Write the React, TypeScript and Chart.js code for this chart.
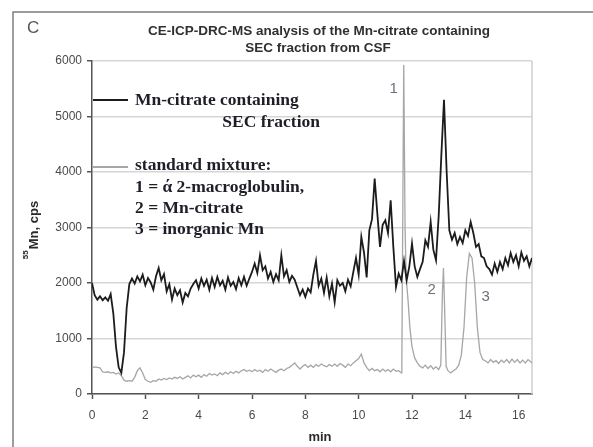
import React, { useEffect, useRef } from "react";
import { Chart, registerables } from "chart.js";

Chart.register(...registerables);

// ---- data ----
const blackTimes = [
  0, 0.1, 0.2, 0.3, 0.4, 0.5, 0.6, 0.7, 0.8, 0.9,
  1, 1.1, 1.2, 1.3, 1.4, 1.5, 1.6, 1.7, 1.8, 1.9,
  2, 2.1, 2.2, 2.3, 2.4, 2.5, 2.6, 2.7, 2.8, 2.9,
  3, 3.1, 3.2, 3.3, 3.4, 3.5, 3.6, 3.7, 3.8, 3.9,
  4, 4.1, 4.2, 4.3, 4.4, 4.5, 4.6, 4.7, 4.8, 4.9,
  5, 5.1, 5.2, 5.3, 5.4, 5.5, 5.6, 5.7, 5.8, 5.9,
  6, 6.1, 6.2, 6.3, 6.4, 6.5, 6.6, 6.7, 6.8, 6.9,
  7, 7.1, 7.2, 7.3, 7.4, 7.5, 7.6, 7.7, 7.8, 7.9,
  8, 8.1, 8.2, 8.3, 8.4, 8.5, 8.6, 8.7, 8.8, 8.9,
  9, 9.1, 9.2, 9.3, 9.4, 9.5, 9.6, 9.7, 9.8, 9.9,
  10, 10.1, 10.2, 10.3, 10.4, 10.5, 10.6, 10.7, 10.8, 10.9,
  11, 11.1, 11.2, 11.3, 11.4, 11.5, 11.6, 11.7, 11.8, 11.9,
  12, 12.1, 12.2, 12.3, 12.4, 12.5, 12.6, 12.7, 12.8, 12.9,
  13, 13.1, 13.2, 13.3, 13.4, 13.5, 13.6, 13.7, 13.8, 13.9,
  14, 14.1, 14.2, 14.3, 14.4, 14.5, 14.6, 14.7, 14.8, 14.9,
  15, 15.1, 15.2, 15.3, 15.4, 15.5, 15.6, 15.7, 15.8, 15.9,
  16, 16.1, 16.2, 16.3, 16.4, 16.5,
];
const blackValues = [
  2000, 1780, 1700, 1760, 1690, 1740, 1680, 1800, 1450, 850,
  480, 380, 750, 1550, 1980, 2080, 1990, 2120, 2030, 2150,
  1960, 2090, 2010, 1880, 2120, 2270, 2050, 2160, 1850, 1980,
  1700, 1900, 1780, 1870, 1650, 1820, 1760, 1900, 1980, 2050,
  1900, 2080, 1950, 2060, 1880, 2090, 1930, 2110, 1960, 2040,
  1880, 2100, 1950, 2020, 1890, 2090, 1960, 2110, 1950, 2080,
  2200, 2350, 2180, 2500, 2230, 2300, 2080, 2200, 2020, 2160,
  2050, 2500, 2120, 2230, 2020, 2130, 2060, 1920, 1780, 1880,
  1750, 1900, 1830, 2150, 2400, 1950, 2080, 1820, 2100, 1760,
  1990, 1650, 2050, 1950, 2000, 1850, 2060, 1940, 2200, 2450,
  2150, 2830, 2550, 2100, 2950, 3150, 3880, 3250, 2650, 3050,
  3130, 2900, 3490, 2650, 1930, 2170, 2050, 2400, 2050, 2300,
  2710, 2300, 2110, 2250, 2380, 2770, 2650, 3100, 2600, 2410,
  3200, 4300, 5300, 4000, 2950, 2780, 2900, 2700, 2830, 2720,
  2950, 2850, 3100, 2900, 2650, 2700, 2480, 2450, 2300, 2250,
  2150, 2350, 2200, 2380, 2250, 2450, 2320, 2540, 2380, 2500,
  2300, 2550, 2400, 2480, 2300, 2450,
];

const greyTimes = [
  0, 0.1, 0.2, 0.3, 0.4, 0.5, 0.6, 0.7, 0.8, 0.9,
  1, 1.1, 1.2, 1.3, 1.4, 1.5, 1.6, 1.7, 1.8, 1.9,
  2, 2.1, 2.2, 2.3, 2.4, 2.5, 2.6, 2.7, 2.8, 2.9,
  3, 3.1, 3.2, 3.3, 3.4, 3.5, 3.6, 3.7, 3.8, 3.9,
  4, 4.1, 4.2, 4.3, 4.4, 4.5, 4.6, 4.7, 4.8, 4.9,
  5, 5.1, 5.2, 5.3, 5.4, 5.5, 5.6, 5.7, 5.8, 5.9,
  6, 6.1, 6.2, 6.3, 6.4, 6.5, 6.6, 6.7, 6.8, 6.9,
  7, 7.1, 7.2, 7.3, 7.4, 7.5, 7.6, 7.7, 7.8, 7.9,
  8, 8.1, 8.2, 8.3, 8.4, 8.5, 8.6, 8.7, 8.8, 8.9,
  9, 9.1, 9.2, 9.3, 9.4, 9.5, 9.6, 9.7, 9.8, 9.9,
  10, 10.1, 10.2, 10.3, 10.4, 10.5, 10.6, 10.7, 10.8, 10.9,
  11, 11.1, 11.2, 11.3, 11.4, 11.5, 11.6,
  11.62, 11.69, 11.74, 11.78, 11.85, 11.92, 12, 12.1, 12.2,
  12.3, 12.4, 12.5, 12.6, 12.7, 12.8, 12.9, 13, 13.08,
  13.14, 13.18, 13.22, 13.28, 13.35, 13.45, 13.55, 13.65, 13.75,
  13.85, 13.95, 14.05, 14.15, 14.25, 14.35, 14.45, 14.55,
  14.65, 14.75, 14.85, 14.95, 15.05, 15.15, 15.25, 15.35, 15.45,
  15.55, 15.65, 15.75, 15.85, 15.95, 16.05, 16.15, 16.25, 16.35, 16.45, 16.5,
];
const greyValues = [
  470, 490, 480, 470, 400, 390, 400, 380, 390, 360,
  380, 330, 250, 230, 240, 230, 300, 420, 470, 380,
  260, 230, 210, 240, 230, 270, 250, 280, 260, 290,
  270, 300, 280, 310, 270, 300, 330, 290, 340, 310,
  340, 300, 350, 320, 370, 340, 360, 330, 380, 350,
  390, 360, 400, 370, 410, 380, 420, 440, 410, 430,
  400, 440, 410, 430, 390, 440, 410, 450, 420, 390,
  430, 450, 420, 460, 480, 520, 560, 500, 450, 500,
  530, 480, 520, 480, 530, 500, 540, 510, 490, 530,
  500, 540, 500, 550, 520, 480, 540, 510, 560, 600,
  640, 720, 560, 480, 420, 460, 420, 440, 400, 450,
  410, 440, 400, 450, 410, 420, 380,
  600, 5930, 3000, 2100, 1700, 1200, 850, 650, 560,
  500, 470, 520, 460, 510, 450, 490, 440, 520,
  1800, 2270, 1600, 500, 420, 380, 420, 450, 520,
  700, 1200, 2100, 2530, 2450, 2000, 1200, 750,
  620, 600, 560, 620, 570, 600, 550, 610, 570,
  620, 560, 630, 570, 620, 560, 610, 560, 620, 580, 560,
];

const xMin = 0;
const xMax = 16.5;
const xStep = 2;
const yMin = 0;
const yMax = 6000;
const yStep = 1000;

const panelLetter = "C";
const titleLines = [
  "CE-ICP-DRC-MS analysis of the Mn-citrate containing",
  "SEC fraction from CSF",
];
const xTitle = "min";
const yTitleSup = "55";
const yTitleMain = "Mn, cps";
const legendBlackLines = ["Mn-citrate containing", "SEC fraction"];
const legendGreyLines = [
  "standard mixture:",
  "1 = ά 2-macroglobulin,",
  "2 = Mn-citrate",
  "3 = inorganic Mn",
];
const peakLabels = ["1", "2", "3"];
const peakLabelTimes = [11.31, 12.74, 14.76];
const peakLabelValues = [5490, 1870, 1750];

const SANS = '"Liberation Sans", Arial, sans-serif';
const SERIF = '"Liberation Serif", "Times New Roman", serif';
const BLACK = "#1c1c1c";
const GREY = "#a6a6a6";

export default function App() {
  const ref = useRef<HTMLCanvasElement>(null);

  useEffect(() => {
    if (!ref.current) return;

    const overlay = {
      id: "overlay",
      beforeDatasetsDraw(chart: any) {
        const { ctx, chartArea } = chart;
        ctx.save();
        ctx.strokeStyle = "#cfcfcf";
        ctx.lineWidth = 1.5;
        ctx.beginPath();
        ctx.moveTo(chartArea.right, chartArea.top);
        ctx.lineTo(chartArea.right, chartArea.bottom);
        ctx.stroke();
        ctx.restore();
      },
      afterDraw(chart: any) {
        const { ctx } = chart;
        const xs = chart.scales.x;
        const ys = chart.scales.y;
        ctx.save();

        // outer frame
        ctx.strokeStyle = "#7d7d7d";
        ctx.lineWidth = 1.5;
        ctx.beginPath();
        ctx.moveTo(13, 447);
        ctx.lineTo(13, 12);
        ctx.lineTo(593, 12);
        ctx.stroke();

        // panel letter
        ctx.fillStyle = "#555";
        ctx.font = `17px ${SANS}`;
        ctx.textAlign = "left";
        ctx.textBaseline = "alphabetic";
        ctx.fillText(panelLetter, 27, 33);

        // title
        ctx.fillStyle = "#303030";
        ctx.font = `bold 13.5px ${SANS}`;
        ctx.textAlign = "center";
        ctx.fillText(titleLines[0], 319, 34.5);
        ctx.fillText(titleLines[1], 318, 51.5);

        // x title
        ctx.font = `bold 13px ${SANS}`;
        ctx.fillStyle = "#2a2a2a";
        ctx.fillText(xTitle, 320, 441);

        // y title (rotated, with superscript)
        ctx.save();
        ctx.translate(38, 230);
        ctx.rotate(-Math.PI / 2);
        ctx.textAlign = "left";
        ctx.font = `bold 8px ${SANS}`;
        const wSup = ctx.measureText(yTitleSup).width;
        ctx.font = `bold 13px ${SANS}`;
        const wMain = ctx.measureText(yTitleMain).width;
        const start = -(wSup + wMain + 1) / 2;
        ctx.font = `bold 8px ${SANS}`;
        ctx.fillText(yTitleSup, start, -10);
        ctx.font = `bold 13px ${SANS}`;
        ctx.fillText(yTitleMain, start + wSup + 1, 0);
        ctx.restore();

        // legend
        ctx.lineWidth = 2;
        ctx.strokeStyle = BLACK;
        ctx.beginPath();
        ctx.moveTo(93, 100);
        ctx.lineTo(128, 100);
        ctx.stroke();
        ctx.strokeStyle = GREY;
        ctx.beginPath();
        ctx.moveTo(93, 167);
        ctx.lineTo(128, 167);
        ctx.stroke();

        ctx.fillStyle = "#1e1e28";
        ctx.font = `bold 17.5px ${SERIF}`;
        ctx.textAlign = "left";
        ctx.fillText(legendBlackLines[0], 135, 105);
        ctx.textAlign = "right";
        ctx.fillText(legendBlackLines[1], 320, 127);
        ctx.textAlign = "left";
        const greyBase = [170, 192, 213, 234];
        legendGreyLines.forEach((t, i) => ctx.fillText(t, 135, greyBase[i]));

        // peak labels
        ctx.fillStyle = "#6c7078";
        ctx.font = `15px ${SANS}`;
        ctx.textAlign = "center";
        ctx.textBaseline = "middle";
        peakLabels.forEach((lab, i) => {
          ctx.fillText(
            lab,
            xs.getPixelForValue(peakLabelTimes[i]),
            ys.getPixelForValue(peakLabelValues[i])
          );
        });

        ctx.restore();
      },
    };

    const chart = new Chart(ref.current, {
      type: "line",
      data: {
        datasets: [
          {
            label: "standard mixture",
            data: greyTimes.map((t, i) => ({ x: t, y: greyValues[i] })),
            borderColor: GREY,
            borderWidth: 1.3,
            pointRadius: 0,
            tension: 0,
            fill: false,
            order: 2,
          },
          {
            label: "Mn-citrate containing SEC fraction",
            data: blackTimes.map((t, i) => ({ x: t, y: blackValues[i] })),
            borderColor: BLACK,
            borderWidth: 1.8,
            pointRadius: 0,
            tension: 0,
            fill: false,
            order: 1,
          },
        ],
      },
      options: {
        responsive: false,
        animation: false,
        events: [],
        layout: { padding: { left: 12, right: 61, top: 61, bottom: 0 } },
        plugins: {
          legend: { display: false },
          tooltip: { enabled: false },
          title: { display: false },
        },
        scales: {
          x: {
            type: "linear",
            min: xMin,
            max: xMax,
            ticks: {
              stepSize: xStep,
              includeBounds: false,
              color: "#4a4a4a",
              font: { family: SANS, size: 12 },
              padding: 9,
              maxRotation: 0,
              callback: (v: any) => String(v),
            },
            grid: {
              drawOnChartArea: false,
              drawTicks: true,
              tickLength: 5,
              tickColor: "#555",
              tickWidth: 1.5,
            },
            border: { color: "#555", width: 1.5 },
            afterFit: (s: any) => {
              s.height = 53;
            },
          },
          y: {
            type: "linear",
            min: yMin,
            max: yMax,
            ticks: {
              stepSize: yStep,
              color: "#4a4a4a",
              font: { family: SANS, size: 12 },
              padding: 5,
              callback: (v: any) => String(v),
            },
            grid: {
              color: "#d6d6d6",
              lineWidth: 1.5,
              tickColor: "#555",
              tickLength: 5,
              tickWidth: 1.5,
            },
            border: { color: "#555", width: 1.5 },
            afterFit: (s: any) => {
              s.width = 80;
            },
          },
        },
      },
      plugins: [overlay],
    });

    return () => chart.destroy();
  }, []);

  return (
    <div
      style={{
        position: "absolute",
        left: 0,
        top: 0,
        width: 593,
        height: 447,
        background: "#fff",
      }}
    >
      <canvas ref={ref} width={593} height={447} style={{ display: "block" }} />
    </div>
  );
}
